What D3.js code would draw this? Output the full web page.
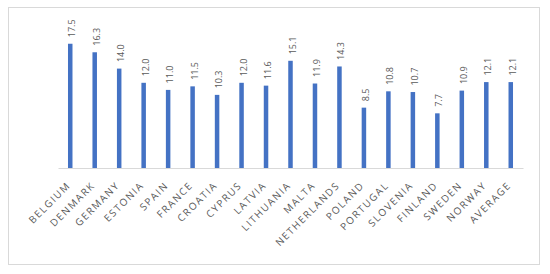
<!DOCTYPE html>
<html>
<head>
<meta charset="utf-8">
<script src="https://cdn.jsdelivr.net/npm/d3@7"></script>
<style>
  body{margin:0;background:#fff;}
  svg{display:block;}
</style>
</head>
<body>
<svg width="550" height="274"></svg>
<script>
const COUNTRIES=['BELGIUM','DENMARK','GERMANY','ESTONIA','SPAIN','FRANCE','CROATIA','CYPRUS','LATVIA','LITHUANIA','MALTA','NETHERLANDS','POLAND','PORTUGAL','SLOVENIA','FINLAND','SWEDEN','NORWAY','AVERAGE'];
const VALUES=[17.5,16.3,14.0,12.0,11.0,11.5,10.3,12.0,11.6,15.1,11.9,14.3,8.5,10.8,10.7,7.7,10.9,12.1,12.1];

const svg=d3.select('svg');

// outer frame
svg.append('rect')
  .attr('x',8.5).attr('y',7.5)
  .attr('width',531).attr('height',257)
  .attr('fill','#fff')
  .attr('stroke','#d9d9d9')
  .attr('stroke-width',1);

const xScale=d3.scaleBand()
  .domain(COUNTRIES)
  .range([58,523]);
const yScale=d3.scaleLinear()
  .domain([0,20])
  .range([168,26]);

const barW=4.5;

svg.selectAll('.bar')
  .data(COUNTRIES)
  .enter()
  .append('rect')
  .classed('bar',true)
  .attr('x',d=>xScale(d)+xScale.bandwidth()/2-barW/2)
  .attr('y',(d,i)=>yScale(VALUES[i]))
  .attr('width',barW)
  .attr('height',(d,i)=>yScale(0)-yScale(VALUES[i]))
  .attr('fill','#4472C4');

// baseline
const xAxis=svg.append('g')
  .attr('transform','translate(0,'+yScale(0)+')')
  .call(d3.axisBottom(xScale).tickSize(0).tickFormat(''));
xAxis.select('.domain').attr('stroke','#d9d9d9').attr('stroke-width',1);

// value labels
svg.selectAll('.val')
  .data(COUNTRIES)
  .enter()
  .append('text')
  .classed('val',true)
  .attr('transform',(d,i)=>'translate('+(xScale(d)+xScale.bandwidth()/2+5)+','+(yScale(VALUES[i])-6.5)+') rotate(-90)')
  .attr('text-anchor','start')
  .attr('font-family','Open Sans, sans-serif')
  .attr('font-size',9)
  .attr('fill','#595959')
  .text((d,i)=>VALUES[i].toFixed(1));

// category labels
svg.selectAll('.cat')
  .data(COUNTRIES)
  .enter()
  .append('text')
  .classed('cat',true)
  .attr('transform',d=>'translate('+(xScale(d)+xScale.bandwidth()/2+1)+',186) rotate(-45)')
  .attr('text-anchor','end')
  .attr('font-family','Open Sans, sans-serif')
  .attr('font-size',10)
  .attr('letter-spacing',1.5)
  .attr('fill','#595959')
  .text(d=>d);
</script>
</body>
</html>
